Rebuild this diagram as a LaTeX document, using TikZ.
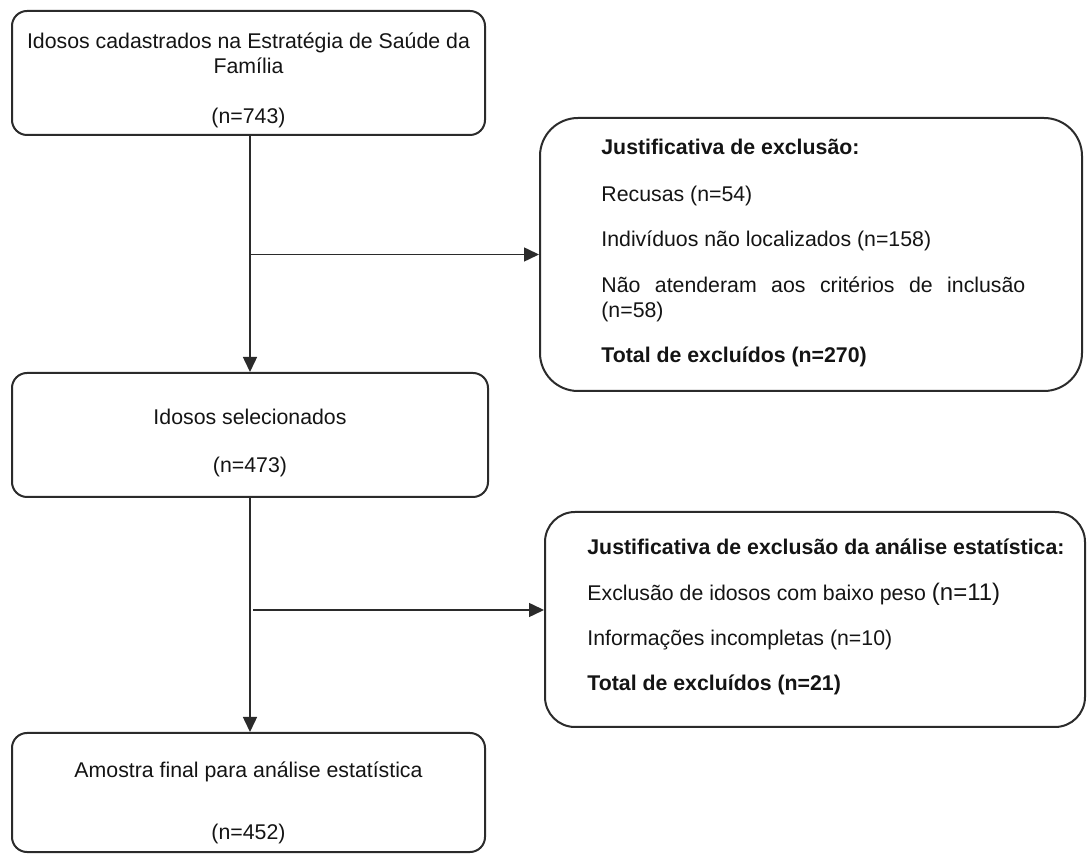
\documentclass[tikz,border=0pt]{standalone}
\usepackage{fontspec}
\setmainfont{Liberation Sans}
\usetikzlibrary{arrows.meta,calc}
\definecolor{linegray}{HTML}{2B2B2B}
\definecolor{inkc}{HTML}{141414}
\begin{document}
\begin{tikzpicture}[x=0.5pt,y=-0.5pt,
  boxs/.style={draw=linegray, line width=1pt, rounded corners=#1, inner sep=0pt, rectangle},
  arr/.style={draw=linegray, line width=0.75pt, -{Triangle[length=7.5pt,width=7pt]}},
  txt/.style={inner sep=0pt, font=\fontsize{10.65}{12.5}\selectfont, text=inkc},
]
\useasboundingbox (0,0) rectangle (1087,854);
% boxes
\node[boxs=7.5pt, minimum width=236.5pt, minimum height=62pt] (b1) at (248.5,73) {};
\node[boxs=19pt, minimum width=271pt, minimum height=136.5pt] (r1) at (811,254.5) {};
\node[boxs=7.5pt, minimum width=238pt, minimum height=62pt] (b2) at (250,435) {};
\node[boxs=15pt, minimum width=270pt, minimum height=107.5pt] (r2) at (815,619.5) {};
\node[boxs=7.5pt, minimum width=236.5pt, minimum height=59.5pt] (b3) at (248.5,792.5) {};
% texts
\node[txt, anchor=base] (t1) at (248.5,49) {\parbox[t]{232pt}{\centering Idosos cadastrados na Estratégia de Saúde da\\Família\\[12.5pt](n=743)}};
\node[txt, anchor=base] (t2) at (250,425) {\parbox[t]{232pt}{\centering Idosos selecionados\\[11.5pt](n=473)}};
\node[txt, anchor=base] (t3) at (248.5,777) {\parbox[t]{232pt}{\centering Amostra final para análise estatística\\[19pt](n=452)}};
\node[txt, anchor=base west] (h1) at (601,155) {\textbf{Justificativa de exclusão:}};
\node[txt, anchor=base west] (r1a) at (601,202) {Recusas (n=54)};
\node[txt, anchor=base west] (r1b) at (601,247) {Indivíduos não localizados (n=158)};
\node[txt, anchor=base west] (r1c) at (601,293) {\parbox[t]{212pt}{\tolerance=10000\hyphenpenalty=10000 Não atenderam aos critérios de inclusão (n=58)}};
\node[txt, anchor=base west] (r1d) at (601,363) {\textbf{Total de excluídos (n=270)}};
\node[txt, anchor=base west] (h2) at (587,555) {\textbf{Justificativa de exclusão da análise estatística:}};
\node[txt, anchor=base west] (r2a) at (587,601) {Exclusão de idosos com baixo peso {\fontsize{12}{14}\selectfont(n=11)}};
\node[txt, anchor=base west] (r2b) at (587,646) {Informações incompletas (n=10)};
\node[txt, anchor=base west] (r2c) at (587,691) {\textbf{Total de excluídos (n=21)}};
% connectors
\draw[arr] (b1.south -| b2.north) -- (b2.north);
\draw[arr] (b2.north |- r1.west) -- (r1.west);
\draw[arr] (b2.south) -- (b2.south |- b3.north);
\coordinate (j2) at (253,610);
\draw[arr] (j2) -- (j2 -| r2.west);
\end{tikzpicture}
\end{document}
